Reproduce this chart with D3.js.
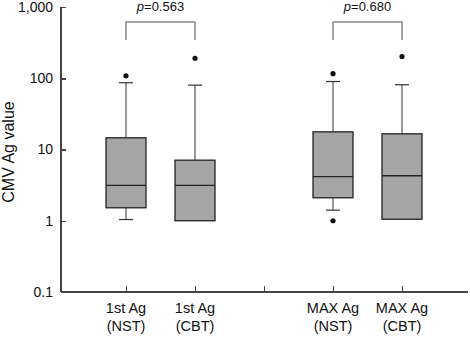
<!DOCTYPE html>
<html lang="en">
<head>
  <meta charset="UTF-8">
  <title>CMV Ag value</title>
  <script src="https://d3js.org/d3.v7.min.js"></script>
  <style>
    body { margin: 0; background: #fff; }
    text { font-family: "Liberation Sans", Arial, sans-serif; fill: #111; }
    .axis path, .axis line { fill: none; stroke: #444; stroke-width: 1.5; shape-rendering: crispEdges; }
    .axis text { font-size: 14px; fill: #111; }
  </style>
</head>
<body>
  <div id="app"></div>
  <script>
    // groups and their box stats (min whisker, q1, median, q3, max whisker)
    var groups = ["1st Ag\n(NST)", "1st Ag\n(CBT)", "MAX Ag\n(NST)", "MAX Ag\n(CBT)"];
    var positions = [1, 2, 4, 5];
    var whiskerLow = [1.04, 1.0, 1.41, 1.05];
    var q1 = [1.52, 1.0, 2.1, 1.05];
    var median = [3.13, 3.13, 4.15, 4.28];
    var q3 = [14.6, 7.08, 17.7, 16.6];
    var whiskerHigh = [86.5, 80, 90, 81];
    var outliers = [[108], [191], [116, 1.0], [202]];
    var yTicks = [0.1, 1, 10, 100, 1000];
    var pValues = ["0.563", "0.680"];
    var pPairs = [[0, 1], [2, 3]];

    var width = 470, height = 337;
    var svg = d3.select("#app").append("svg")
      .attr("width", width)
      .attr("height", height);

    var x = d3.scaleLinear().domain([1, 5]).range([126, 402]);
    var y = d3.scaleLog().domain([0.1, 1000]).range([292, 7]);

    // y axis
    svg.append("g")
      .attr("class", "axis")
      .attr("transform", "translate(61,0)")
      .call(d3.axisLeft(y).tickValues(yTicks).tickSize(-5).tickPadding(8)
        .tickFormat(d3.format(",")))
      .call(function (g) { g.select(".domain").attr("d", "M0,7V292"); });

    // x axis
    var xAxis = svg.append("g")
      .attr("class", "axis")
      .attr("transform", "translate(0,292)")
      .call(d3.axisBottom(x).tickValues([1, 2, 3, 4, 5]).tickSize(-6).tickFormat(""));
    xAxis.select(".domain").attr("d", "M61,0H468");

    // x labels (two lines)
    groups.forEach(function (name, i) {
      var t = svg.append("text")
        .attr("x", x(positions[i]))
        .attr("y", 313)
        .attr("text-anchor", "middle")
        .style("font-size", "14.5px");
      name.split("\n").forEach(function (line, j) {
        t.append("tspan")
          .attr("x", x(positions[i]))
          .attr("dy", j === 0 ? 0 : 18)
          .text(line);
      });
    });

    // y title
    svg.append("text")
      .attr("transform", "translate(14,152) rotate(-90)")
      .attr("text-anchor", "middle")
      .style("font-size", "16px")
      .text("CMV Ag value");

    // boxes
    var boxW = 40, capW = 14;
    var g = svg.append("g");
    positions.forEach(function (p, i) {
      var cx = x(p);
      // whiskers
      g.append("line")
        .attr("x1", cx).attr("x2", cx)
        .attr("y1", y(whiskerHigh[i])).attr("y2", y(q3[i]))
        .attr("stroke", "#555").attr("stroke-width", 1.2);
      g.append("line")
        .attr("x1", cx - capW / 2).attr("x2", cx + capW / 2)
        .attr("y1", y(whiskerHigh[i])).attr("y2", y(whiskerHigh[i]))
        .attr("stroke", "#333").attr("stroke-width", 1.2);
      if (whiskerLow[i] < q1[i]) {
        g.append("line")
          .attr("x1", cx).attr("x2", cx)
          .attr("y1", y(q1[i])).attr("y2", y(whiskerLow[i]))
          .attr("stroke", "#555").attr("stroke-width", 1.2);
        g.append("line")
          .attr("x1", cx - capW / 2).attr("x2", cx + capW / 2)
          .attr("y1", y(whiskerLow[i])).attr("y2", y(whiskerLow[i]))
          .attr("stroke", "#333").attr("stroke-width", 1.2);
      }
      g.append("rect")
        .attr("x", cx - boxW / 2)
        .attr("y", y(q3[i]))
        .attr("width", boxW)
        .attr("height", y(q1[i]) - y(q3[i]))
        .attr("fill", "#a5a5a5")
        .attr("stroke", "#222")
        .attr("stroke-width", 1.3);
      g.append("line")
        .attr("x1", cx - boxW / 2).attr("x2", cx + boxW / 2)
        .attr("y1", y(median[i])).attr("y2", y(median[i]))
        .attr("stroke", "#222").attr("stroke-width", 1.3);
      outliers[i].forEach(function (v) {
        g.append("circle")
          .attr("cx", cx).attr("cy", y(v)).attr("r", 2.6)
          .attr("fill", "#111");
      });
    });

    // p-value brackets
    pPairs.forEach(function (pair, k) {
      var x1 = x(positions[pair[0]]), x2 = x(positions[pair[1]]);
      svg.append("path")
        .attr("d", "M" + x1 + ",40V22H" + x2 + "V40")
        .attr("fill", "none")
        .attr("stroke", "#888")
        .attr("stroke-width", 1.5);
      var t = svg.append("text")
        .attr("x", (x1 + x2) / 2)
        .attr("y", 11)
        .attr("text-anchor", "middle")
        .style("font-size", "13px");
      t.append("tspan").style("font-style", "italic").text("p");
      t.append("tspan").text("=" + pValues[k]);
    });
  </script>
</body>
</html>
